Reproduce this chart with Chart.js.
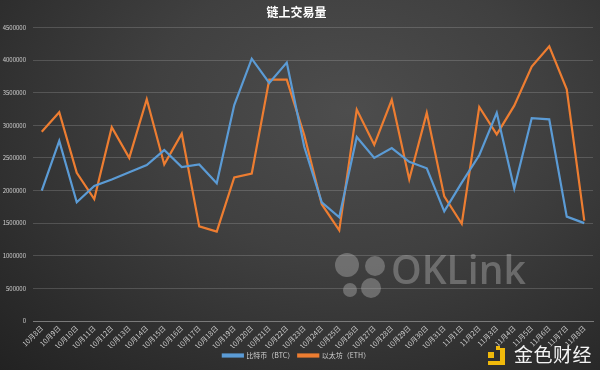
<!DOCTYPE html>
<html>
<head>
<meta charset="utf-8">
<title>链上交易量</title>
<script src="https://cdn.jsdelivr.net/npm/chart.js@4/dist/chart.umd.min.js"></script>
<style>
  html,body{margin:0;padding:0;}
  body{width:600px;height:370px;overflow:hidden;font-family:"Noto Sans CJK SC","Noto Sans",sans-serif;
       background:radial-gradient(ellipse at 58% 30%, #4d4d4d 0%, #404040 40%, #2c2c2c 80%, #222 100%);}
  .wrap{position:relative;width:600px;height:370px;}
  .mark{position:absolute;left:0;top:0;color:rgba(190,190,190,0.38);}
  .mark i{position:absolute;border-radius:50%;background:rgba(190,190,190,0.38);}
  .mark span{position:absolute;left:391px;top:249px;font-family:"Open Sans",sans-serif;font-size:39px;font-weight:600;line-height:1;}
  .brand{position:absolute;left:514px;top:344px;font-size:19px;line-height:1;color:#f4f4f4;font-family:"Noto Sans CJK SC",sans-serif;letter-spacing:0.5px;}
  .icon b{position:absolute;background:#f0b90b;}
</style>
</head>
<body>
<div class="wrap">
  <canvas id="chart" width="600" height="370"></canvas>
  <div class="mark">
    <i style="left:335px;top:253px;width:24px;height:24px"></i>
    <i style="left:365px;top:256px;width:20px;height:20px"></i>
    <i style="left:343px;top:283px;width:14px;height:14px"></i>
    <i style="left:361px;top:278px;width:20px;height:20px"></i>
    <span>OKLink</span>
  </div>
  <div class="icon">
    <b style="left:488px;top:352px;width:6px;height:6px"></b>
    <b style="left:496px;top:346px;width:4px;height:4px"></b>
    <b style="left:500px;top:348px;width:5px;height:17px"></b>
    <b style="left:488px;top:361px;width:17px;height:4px"></b>
  </div>
  <div class="brand">金色财经</div>
</div>
<script>
var labels = ['10月8日','10月9日','10月10日','10月11日','10月12日','10月13日','10月14日','10月15日',
  '10月16日','10月17日','10月18日','10月19日','10月20日','10月21日','10月22日','10月23日',
  '10月24日','10月25日','10月26日','10月27日','10月28日','10月29日','10月30日','10月31日',
  '11月1日','11月2日','11月3日','11月4日','11月5日','11月6日','11月7日','11月8日'];

var btc = [2000000,2760000,1820000,2070000,2170000,2280000,2390000,2620000,
  2360000,2400000,2110000,3310000,4020000,3650000,3960000,2670000,
  1820000,1590000,2820000,2500000,2650000,2440000,2340000,1680000,
  2120000,2540000,3190000,2030000,3110000,3090000,1600000,1500000];

var eth = [2900000,3200000,2270000,1870000,2970000,2500000,3400000,2400000,
  2870000,1450000,1370000,2200000,2260000,3700000,3700000,2850000,
  1790000,1390000,3240000,2700000,3390000,2170000,3190000,1910000,
  1490000,3280000,2860000,3300000,3900000,4210000,3550000,1540000];

var yTicks = [0,500000,1000000,1500000,2000000,2500000,3000000,3500000,4000000,4500000];

var fam = '"Noto Sans CJK SC","Noto Sans",sans-serif';

new Chart(document.getElementById('chart'), {
  type: 'line',
  data: {
    labels: labels,
    datasets: [
      {label:'比特币（BTC）', data:btc, borderColor:'#5b9bd5', backgroundColor:'#5b9bd5',
       borderWidth:2.2, pointRadius:0, tension:0},
      {label:'以太坊（ETH）', data:eth, borderColor:'#ed7d31', backgroundColor:'#ed7d31',
       borderWidth:2.2, pointRadius:0, tension:0}
    ]
  },
  options: {
    responsive:false,
    animation:false,
    layout:{padding:{left:0,right:7,top:0,bottom:1}},
    plugins:{
      title:{display:true, text:'链上交易量', color:'#ffffff',
        font:{family:fam, size:12, weight:'bold'}, padding:{top:5,bottom:8}},
      legend:{position:'bottom', labels:{color:'#d0d0d0', font:{family:fam,size:7}, boxWidth:20, boxHeight:2, padding:4}},
      tooltip:{enabled:false}
    },
    scales:{
      x:{
        offset:true,
        afterFit:function(s){ s.height = 27; },
        grid:{display:false, drawTicks:false},
        border:{color:'#7a7a7a'},
        ticks:{color:'#d0d0d0', font:{family:fam,size:7}, minRotation:45, maxRotation:45, autoSkip:false, padding:3}
      },
      y:{
        min:0, max:4500000,
        afterFit:function(s){ s.width = 33; },
        afterBuildTicks:function(s){ s.ticks = yTicks.map(function(v){ return {value:v}; }); },
        grid:{color:'rgba(255,255,255,0.16)', drawTicks:false},
        border:{display:false},
        ticks:{color:'#d0d0d0', font:{family:fam,size:6}, padding:7, callback:function(v){ return v; }}
      }
    }
  }
});
</script>
</body>
</html>
